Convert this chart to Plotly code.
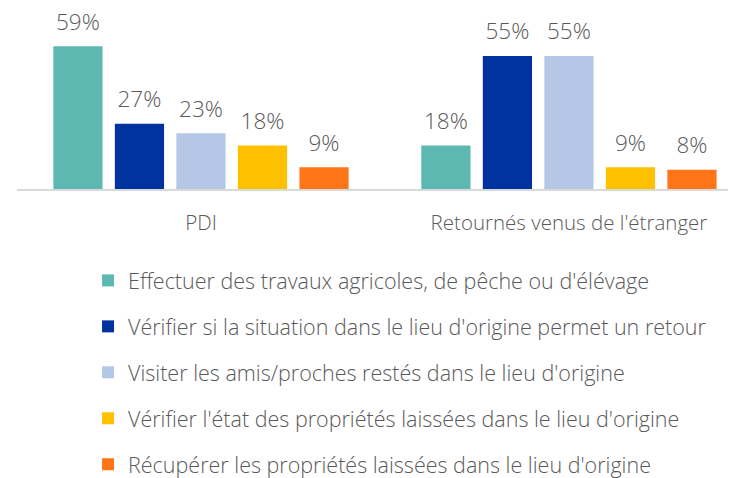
import plotly.graph_objects as go

categories = ["PDI", "Retournés venus de l'étranger"]
series_names = [
    "Effectuer des travaux agricoles, de pêche ou d'élévage",
    "Vérifier si la situation dans le lieu d'origine permet un retour",
    "Visiter les amis/proches restés dans le lieu d'origine",
    "Vérifier l'état des propriétés laissées dans le lieu d'origine",
    "Récupérer les propriétés laissées dans le lieu d'origine",
]
travaux = [59, 18]
verifier_situation = [27, 55]
visiter = [23, 55]
verifier_etat = [18, 9]
recuperer = [9, 8]
series_values = [travaux, verifier_situation, visiter, verifier_etat, recuperer]
colors = ["#5EB8B2", "#0033A0", "#B4C7E7", "#FFC000", "#FF7518"]

FONT = "Open Sans"
GREY = "#595959"

fig = go.Figure()
for i, (name, vals, col) in enumerate(zip(series_names, series_values, colors)):
    fig.add_trace(go.Bar(
        x=categories, y=vals, name=name, marker_color=col,
        marker_line_width=0, legendgroup=f"g{i}",
        offsetgroup=str(i),
    ))
for i, (name, vals) in enumerate(zip(series_names, series_values)):
    fig.add_trace(go.Scatter(
        x=categories, y=vals, mode="markers+text",
        marker=dict(size=16, opacity=0), text=[f"{v}%" for v in vals],
        textposition="top center",
        textfont=dict(family=FONT, size=22.5, color=GREY, weight=300),
        cliponaxis=False, showlegend=False, hoverinfo="skip",
        offsetgroup=str(i),
    ))

fig.update_layout(
    width=728, height=482,
    margin=dict(l=9, r=0, t=0, b=301),
    paper_bgcolor="white", plot_bgcolor="white",
    barmode="group", bargap=0.164, bargroupgap=0.2,
    scattermode="group", scattergap=0.164,
    font=dict(family=FONT, color=GREY),
    showlegend=True,
    legend=dict(
        orientation="v", x=0.0988, xanchor="left", y=-0.392, yanchor="top",
        font=dict(family=FONT, size=21.5, color=GREY, weight=300),
        tracegroupgap=15, traceorder="grouped",
    ),
)
fig.update_xaxes(
    range=[-0.5, 1.454], showline=True, linecolor="#D9D9D9", linewidth=1.5,
    ticks="", ticklabelstandoff=15,
    tickfont=dict(family=FONT, size=20.5, color=GREY, weight=300),
    showgrid=False,
)
fig.update_yaxes(range=[0, 74.8], visible=False, showgrid=False)

fig.write_html("out.html")
